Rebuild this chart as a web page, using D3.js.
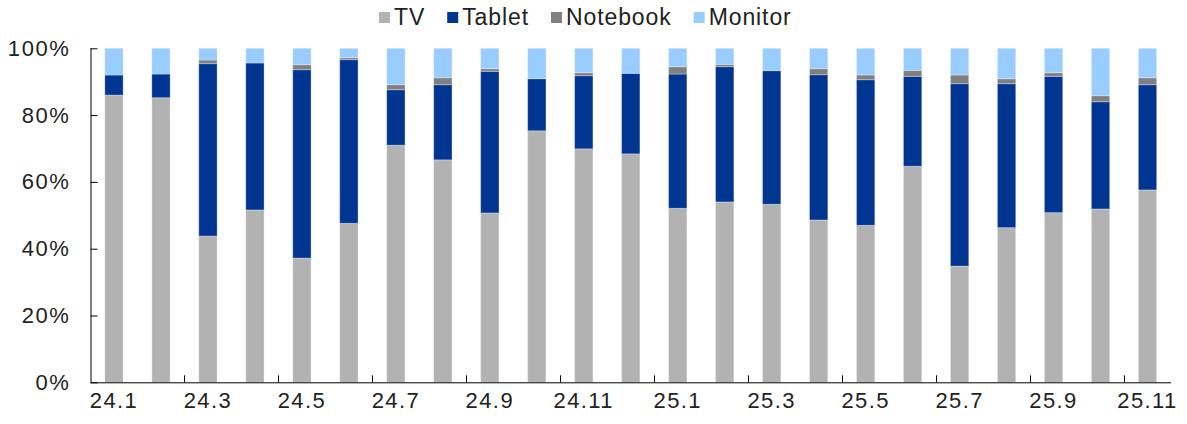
<!DOCTYPE html>
<html>
<head>
<meta charset="utf-8">
<script src="https://cdn.jsdelivr.net/npm/d3@7"></script>
<style>
  body { margin: 0; background: #fff; }
  svg { display: block; font-family: "Liberation Sans", Arial, sans-serif; }
</style>
</head>
<body>
<svg id="chart" width="1187" height="424"></svg>
<script>
// months shown on the x axis (every other one gets a label)
const months = ["24.1","24.2","24.3","24.4","24.5","24.6","24.7","24.8","24.9","24.10","24.11","24.12",
                "25.1","25.2","25.3","25.4","25.5","25.6","25.7","25.8","25.9","25.10","25.11"];

// shares in %
const tv       = [86.0, 85.2, 43.8, 51.6, 37.2, 47.6, 71.0, 66.6, 50.7, 75.3, 69.9, 68.4,
                  52.1, 54.0, 53.3, 48.6, 47.0, 64.7, 34.8, 46.3, 50.8, 51.9, 57.6];
const tablet   = [6.0, 7.1, 51.6, 44.0, 56.4, 49.0, 16.6, 22.5, 42.4, 15.6, 21.9, 24.1,
                  40.2, 40.5, 40.0, 43.5, 43.6, 26.9, 54.6, 43.1, 40.8, 32.1, 31.5];
const notebook = [0.0, 0.0, 1.1, 0.0, 1.5, 0.6, 1.5, 2.1, 0.8, 0.0, 0.9, 0.0,
                  2.2, 0.7, 0.0, 1.8, 1.4, 1.8, 2.6, 1.5, 1.1, 1.8, 2.1];
const monitor  = [8.0, 7.7, 3.5, 4.4, 4.9, 2.8, 10.9, 8.8, 6.1, 9.1, 7.3, 7.5,
                  5.5, 4.8, 6.7, 6.1, 8.0, 6.6, 8.0, 9.1, 7.3, 14.2, 8.8];

const seriesNames = ["TV", "Tablet", "Notebook", "Monitor"];
const seriesColors = ["#b2b2b2", "#003591", "#808080", "#99ccff"];
const yTicks = [0, 20, 40, 60, 80, 100];

const rows = months.map((m, i) => ({
  month: m, TV: tv[i], Tablet: tablet[i], Notebook: notebook[i], Monitor: monitor[i]
}));

const svg = d3.select("#chart");
const margin = { left: 90.5, right: 16, top: 48.3, bottom: 41.7 };
const W = 1187, H = 424;

const x = d3.scaleBand()
  .domain(months)
  .range([margin.left, W - margin.right])
  .paddingInner(0.61)
  .paddingOuter(0.305);

const y = d3.scaleLinear()
  .domain([0, 100])
  .range([H - margin.bottom, margin.top]);

const color = d3.scaleOrdinal().domain(seriesNames).range(seriesColors);

// normalise each month to 100 and stack
const stack = d3.stack().keys(seriesNames)
  .value((d, k) => d[k] / (d.TV + d.Tablet + d.Notebook + d.Monitor) * 100);
const layers = stack(rows);

svg.append("g")
  .selectAll("g")
  .data(layers)
  .join("g")
  .attr("fill", d => color(d.key))
  .selectAll("rect")
  .data(d => d)
  .join("rect")
  .attr("x", d => x(d.data.month))
  .attr("width", x.bandwidth())
  .attr("y", d => y(d[1]))
  .attr("height", d => y(d[0]) - y(d[1]))
  .attr("stroke", "#fff")
  .attr("stroke-opacity", 0.3)
  .attr("stroke-width", 1);

// y axis, ticks point inward
const yAxis = svg.append("g")
  .attr("transform", `translate(${margin.left},0)`)
  .call(d3.axisRight(y).tickValues(yTicks).tickSize(7).tickFormat(d => d + "%"));
yAxis.select(".domain").attr("d", `M0.5,${y(100)}V${y(0)}`).attr("stroke", "#000");
yAxis.selectAll(".tick line").attr("stroke", "#000");
yAxis.selectAll(".tick text")
  .attr("x", -20).attr("text-anchor", "end")
  .attr("font-size", 22).attr("letter-spacing", 1.6).attr("fill", "#222");

// x axis: ticks at every second band boundary, labels every second month
const step = x.step();
const bounds = d3.range(2, months.length, 2).map(i => margin.left + i * step);
const xg = svg.append("g");
xg.append("line")
  .attr("x1", margin.left).attr("x2", W - margin.right)
  .attr("y1", y(0) + 0.5).attr("y2", y(0) + 0.5)
  .attr("stroke", "#000");
xg.selectAll("line.tk")
  .data(bounds)
  .join("line")
  .attr("class", "tk")
  .attr("x1", d => Math.round(d) + 0.5).attr("x2", d => Math.round(d) + 0.5)
  .attr("y1", y(0)).attr("y2", y(0) - 7)
  .attr("stroke", "#000");
xg.selectAll("text")
  .data(months.filter((m, i) => i % 2 === 0))
  .join("text")
  .attr("x", d => x(d) + x.bandwidth() / 2)
  .attr("y", 408)
  .attr("text-anchor", "middle")
  .attr("font-size", 22)
  .attr("letter-spacing", 1.4)
  .attr("fill", "#222")
  .text(d => d);

// legend
const legend = svg.append("g");
let lx = 379;
seriesNames.forEach((name, i) => {
  legend.append("rect")
    .attr("x", lx).attr("y", 12).attr("width", 11).attr("height", 11)
    .attr("fill", seriesColors[i]);
  const t = legend.append("text")
    .attr("x", lx + 15).attr("y", 25)
    .attr("font-size", 23).attr("letter-spacing", 0.9).attr("fill", "#222")
    .text(name);
  lx += 15 + t.node().getComputedTextLength() + 22;
});
</script>
</body>
</html>
